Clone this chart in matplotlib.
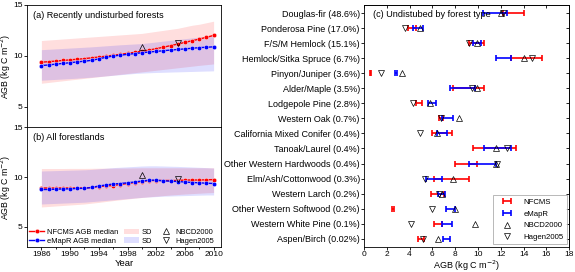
import numpy as np
import matplotlib
matplotlib.use('Agg')
import matplotlib.pyplot as plt

plt.rcParams['font.family'] = ['Liberation Sans', 'DejaVu Sans']
plt.rcParams['font.size'] = 6

### DATA
years = list(range(1986, 2011))

# (a) recently undisturbed forests
nfcms_a = [9.37, 9.42, 9.48, 9.54, 9.6, 9.66, 9.72, 9.8, 9.88, 9.96, 10.05, 10.14, 10.24, 10.34, 10.45, 10.56,
           10.7, 10.84, 11.0, 11.15, 11.32, 11.48, 11.64, 11.82, 12.0]
emapr_a = [9.04, 9.1, 9.18, 9.25, 9.32, 9.4, 9.47, 9.55, 9.7, 9.85, 9.98, 10.06, 10.14, 10.22, 10.3, 10.37,
           10.43, 10.5, 10.56, 10.62, 10.68, 10.74, 10.8, 10.84, 10.88]
nfcms_up_a = [11.5, 11.55, 11.6, 11.65, 11.7, 11.75, 11.8, 11.85, 11.9, 11.95, 12.0, 12.05, 12.1, 12.15, 12.2,
              12.3, 12.4, 12.5, 12.6, 12.7, 12.85, 13.0, 13.1, 13.25, 13.4]
nfcms_lo_a = [7.3, 7.38, 7.46, 7.54, 7.62, 7.7, 7.78, 7.86, 7.94, 8.02, 8.1, 8.18, 8.26, 8.34, 8.42, 8.5,
              8.58, 8.66, 8.74, 8.82, 8.9, 8.98, 9.06, 9.13, 9.2]
emapr_up_a = [10.6, 10.64, 10.68, 10.72, 10.76, 10.8, 10.84, 10.88, 10.93, 10.98, 11.03, 11.08, 11.12, 11.16,
              11.2, 11.28, 11.36, 11.44, 11.52, 11.6, 11.68, 11.76, 11.84, 11.92, 12.0]
emapr_lo_a = [7.6, 7.64, 7.68, 7.72, 7.76, 7.8, 7.85, 7.9, 7.96, 8.02, 8.08, 8.14, 8.2, 8.26, 8.3, 8.33,
              8.36, 8.38, 8.4, 8.42, 8.44, 8.46, 8.48, 8.5, 8.52]

# (b) all forestlands
nfcms_b = [8.9, 8.9, 8.9, 8.9, 8.9, 8.9, 8.9, 8.95, 9.05, 9.1, 9.15, 9.25, 9.35, 9.45, 9.55, 9.65,
           9.65, 9.65, 9.65, 9.65, 9.7, 9.7, 9.7, 9.72, 9.74]
emapr_b = [8.75, 8.75, 8.78, 8.8, 8.82, 8.85, 8.87, 8.95, 9.1, 9.2, 9.3, 9.35, 9.42, 9.5, 9.6, 9.68,
           9.68, 9.62, 9.58, 9.55, 9.5, 9.45, 9.42, 9.38, 9.35]
nfcms_up_b = [10.85, 10.85, 10.85, 10.85, 10.86, 10.86, 10.86, 10.87, 10.88, 10.88, 10.89, 10.9, 10.9, 10.91,
              10.92, 10.92, 10.92, 10.92, 10.92, 10.92, 10.92, 10.92, 10.92, 10.92, 10.92]
nfcms_lo_b = [7.0, 7.05, 7.1, 7.15, 7.2, 7.25, 7.3, 7.38, 7.46, 7.55, 7.64, 7.72, 7.8, 7.88, 7.95, 8.02,
              8.08, 8.14, 8.2, 8.25, 8.3, 8.34, 8.38, 8.42, 8.45]
emapr_up_b = [10.6, 10.62, 10.64, 10.66, 10.68, 10.7, 10.72, 10.76, 10.82, 10.88, 10.94, 10.98, 11.02, 11.06,
              11.1, 11.12, 11.12, 11.1, 11.08, 11.06, 11.03, 11.0, 10.97, 10.94, 10.9]
emapr_lo_b = [7.3, 7.33, 7.36, 7.39, 7.42, 7.45, 7.48, 7.54, 7.6, 7.66, 7.72, 7.78, 7.84, 7.9, 7.96, 8.0,
              8.04, 8.08, 8.1, 8.12, 8.14, 8.16, 8.18, 8.2, 8.2]

nbcd_year, hagen_year = 2000, 2005
nbcd_ab = [10.9, 10.25]
hagen_ab = [11.3, 9.85]

# (c) undisturbed by forest type
forest_types = ['Douglas-fir (48.6%)', 'Ponderosa Pine (17.0%)', 'F/S/M Hemlock (15.1%)',
                'Hemlock/Sitka Spruce (6.7%)', 'Pinyon/Juniper (3.6%)', 'Alder/Maple (3.5%)',
                'Lodgepole Pine (2.8%)', 'Western Oak (0.7%)', 'California Mixed Conifer (0.4%)',
                'Tanoak/Laurel (0.4%)', 'Other Western Hardwoods (0.4%)', 'Elm/Ash/Cottonwood (0.3%)',
                'Western Larch (0.2%)', 'Other Western Softwood (0.2%)', 'Western White Pine (0.1%)',
                'Aspen/Birch (0.02%)']
nfcms_lo_c = [12.2, 3.9, 9.2, 12.85, 0.5, 7.8, 4.6, 6.6, 6.0, 9.6, 8.0, 6.1, 5.85, 2.5, 6.1, 4.7]
nfcms_hi_c = [14.0, 4.6, 10.5, 15.6, 0.6, 10.5, 5.1, 6.9, 7.7, 13.3, 9.9, 9.2, 7.0, 2.65, 6.8, 5.3]
emapr_lo_c = [10.4, 4.3, 9.6, 11.6, 2.7, 7.5, 5.6, 6.8, 6.4, 10.5, 9.2, 5.4, 6.5, 7.2, 6.8, 6.95]
emapr_hi_c = [12.5, 5.2, 10.3, 12.9, 2.9, 9.7, 6.3, 7.8, 7.3, 12.9, 11.6, 6.8, 7.1, 7.95, 7.75, 7.55]
nbcd_c = [12.0, 4.9, 9.9, 14.0, 3.3, 9.9, 5.75, 8.3, 6.4, 11.6, 11.6, 7.8, 6.8, 8.0, 9.7, 6.5]
hagen_c = [12.2, 3.6, 9.2, 14.7, 1.5, 9.5, 4.3, 6.75, 4.9, 12.5, 11.7, 5.35, 6.6, 6.0, 4.1, 5.2]

###PLOT
fig = plt.figure(figsize=(5.75, 2.72), dpi=100)
ax_a = fig.add_axes([0.047, 0.533, 0.337, 0.449])
ax_b = fig.add_axes([0.047, 0.092, 0.337, 0.441])
ax_c = fig.add_axes([0.633, 0.092, 0.357, 0.890])

red = '#ff0000'
blue = '#0000ff'

panels = [(ax_a, nfcms_a, emapr_a, nfcms_up_a, nfcms_lo_a, emapr_up_a, emapr_lo_a, '(a) Recently undisturbed forests'),
          (ax_b, nfcms_b, emapr_b, nfcms_up_b, nfcms_lo_b, emapr_up_b, emapr_lo_b, '(b) All forestlands')]
for k, (ax, med_n, med_e, up_n, lo_n, up_e, lo_e, title) in enumerate(panels):
    ax.fill_between(years, lo_n, up_n, color=red, alpha=0.13, lw=0, label='SD')
    ax.fill_between(years, lo_e, up_e, color=blue, alpha=0.13, lw=0, label='SD')
    ax.plot(years, med_n, '-o', color=red, ms=3.2, lw=1, mec='w', mew=0.3, label='NFCMS AGB median')
    ax.plot(years, med_e, '-o', color=blue, ms=3.2, lw=1, mec='w', mew=0.3, label='eMapR AGB median')
    ax.plot(nbcd_year, nbcd_ab[k], '^', mfc='none', mec='k', mew=0.5, ms=4.2, label='NBCD2000')
    ax.plot(hagen_year, hagen_ab[k], 'v', mfc='none', mec='k', mew=0.5, ms=4.2, label='Hagen2005')
    ax.set_xlim(1984, 2011)
    ax.set_ylim(3, 15)
    ax.set_yticks([5, 10, 15])
    ax.set_xticks(range(1986, 2011, 4))
    ax.set_xticks(range(1986, 2011, 2), minor=True)
    ax.tick_params(length=2, width=0.6, pad=1)
    ax.tick_params(which='minor', length=1.5, width=0.6)
    ax.set_ylabel('AGB (kg C m$^{-2}$)', labelpad=0.3, fontsize=6.3)
    ax.text(0.03, 0.915, title, transform=ax.transAxes, va='center', ha='left', fontsize=6.6)
    for s in ax.spines.values():
        s.set_linewidth(0.6)

ax_a.set_xticklabels([])
ax_b.set_xlabel('Year', labelpad=0.5, fontsize=6.8)
h, l = ax_b.get_legend_handles_labels()
order = [2, 3, 0, 1, 4, 5]
ax_b.legend([h[i] for i in order], [l[i] for i in order], ncol=3, loc='lower left', frameon=False,
            fontsize=5.4, handlelength=2.0, handletextpad=0.35, columnspacing=0.8, labelspacing=0.2,
            borderaxespad=0.2, borderpad=0.1, bbox_to_anchor=(0.0, 0.0))

# panel c
pos = np.arange(len(forest_types))
lo_n, hi_n = np.array(nfcms_lo_c), np.array(nfcms_hi_c)
lo_e, hi_e = np.array(emapr_lo_c), np.array(emapr_hi_c)
eb_n = ax_c.errorbar((lo_n + hi_n) / 2, pos, xerr=(hi_n - lo_n) / 2, fmt='none', ecolor=red, elinewidth=1.2,
                     capsize=2.2, capthick=1.2, label='NFCMS')
eb_e = ax_c.errorbar((lo_e + hi_e) / 2, pos, xerr=(hi_e - lo_e) / 2, fmt='none', ecolor=blue, elinewidth=1.2,
                     capsize=2.2, capthick=1.2, label='eMapR')
up, = ax_c.plot(nbcd_c, pos, '^', ls='none', mfc='none', mec='k', mew=0.5, ms=4.5, label='NBCD2000')
dn, = ax_c.plot(hagen_c, pos, 'v', ls='none', mfc='none', mec='k', mew=0.5, ms=4.5, label='Hagen2005')
ax_c.set_yticks(pos)
ax_c.set_yticklabels(forest_types, fontsize=6.5)
ax_c.set_ylim(15.55, -0.55)
ax_c.set_xlim(0, 18)
ax_c.set_xticks(range(0, 19, 2))
ax_c.tick_params(axis='both', length=2, width=0.6, pad=1)
# inward ticks on top and right
sx = ax_c.secondary_xaxis('top')
sx.set_xticks(range(0, 19, 2))
sx.tick_params(direction='in', length=2, width=0.6, labeltop=False)
sy = ax_c.secondary_yaxis('right')
sy.set_yticks(pos)
sy.tick_params(direction='in', length=2, width=0.6, labelright=False)
ax_c.set_xlabel('AGB (kg C m$^{-2}$)', labelpad=0.5, fontsize=6.5)
ax_c.text(0.044, 0.959, '(c) Undistubed by forest type', transform=ax_c.transAxes, va='center', ha='left',
          fontsize=6.6)
for s in ax_c.spines.values():
    s.set_linewidth(0.6)
for s in list(sx.spines.values()) + list(sy.spines.values()):
    s.set_linewidth(0.6)
leg = ax_c.legend([eb_n, eb_e, up, dn], ['NFCMS', 'eMapR', 'NBCD2000', 'Hagen2005'], loc='lower right',
                  fontsize=5.6, fancybox=False, edgecolor='#999999', handlelength=2.8, handletextpad=0.7,
                  labelspacing=0.55, borderaxespad=0.35, borderpad=0.4)
leg.get_frame().set_linewidth(0.6)

fig.savefig('out.png', dpi=100)
